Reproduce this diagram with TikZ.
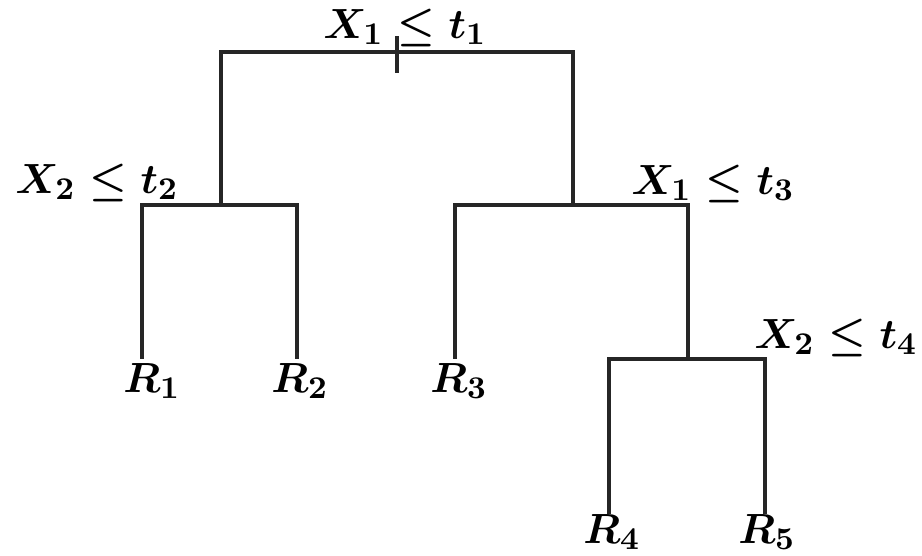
\documentclass[tikz,border=0pt]{standalone}
\usepackage{amsmath,amssymb}
\usepackage{tikz}
\usetikzlibrary{positioning}

\begin{document}
\begin{tikzpicture}[x=0.01cm, y=-0.01cm,
    branch/.style={line width=1.2pt, black!85, line cap=rect},
    split/.style={font=\fontsize{12.5}{15}\selectfont\boldmath, inner sep=1pt},
    leaf/.style={font=\fontsize{12.5}{15}\selectfont\boldmath, inner sep=1pt}
]
\useasboundingbox (0,0) rectangle (922,555);
% split points and leaf ends
\coordinate (root) at (397,52);
\coordinate (lsplit) at (221,205);
\coordinate (rsplit) at (573,205);
\coordinate (rrsplit) at (688,359);
\coordinate (e1) at (142,357);
\coordinate (e2) at (297,357);
\coordinate (e3) at (455,357);
\coordinate (e4) at (609,512);
\coordinate (e5) at (765,512);
\coordinate (ticktop) at (397,38);
\coordinate (tickbot) at (397,71);

% tree
\draw[branch] (lsplit) -- (lsplit |- root) -- (rsplit |- root) -- (rsplit);
\draw[branch] (ticktop) -- (tickbot);
\draw[branch] (e1) -- (e1 |- lsplit) -- (e2 |- lsplit) -- (e2);
\draw[branch] (e3) -- (e3 |- rsplit) -- (rrsplit |- rsplit) -- (rrsplit);
\draw[branch] (e4) -- (e4 |- rrsplit) -- (e5 |- rrsplit) -- (e5);

% split labels
\node[split] (s1) at (405,28) {$X_1 \le t_1$};
\node[split] (s2) at (97,183) {$X_2 \le t_2$};
\node[split] (s3) at (713,184) {$X_1 \le t_3$};
\node[split] (s4) at (836,338) {$X_2 \le t_4$};

% regions
\node[leaf] (r1) at (152,381) {$R_1$};
\node[leaf] (r2) at (300,381) {$R_2$};
\node[leaf] (r3) at (459,381) {$R_3$};
\node[leaf] (r4) at (612,532) {$R_4$};
\node[leaf] (r5) at (767,532) {$R_5$};
\end{tikzpicture}
\end{document}
